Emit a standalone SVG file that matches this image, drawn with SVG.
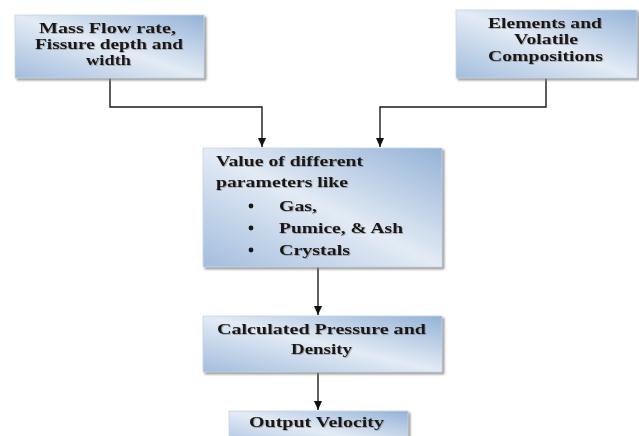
<svg xmlns="http://www.w3.org/2000/svg" width="639" height="436" viewBox="0 0 639 436">
<defs>
<linearGradient id="g" x1="0" y1="1" x2="1" y2="0">
<stop offset="0" stop-color="#a3bddd"/>
<stop offset="0.5" stop-color="#e3ebf5"/>
<stop offset="1" stop-color="#93b2d7"/>
</linearGradient>
<filter id="sh" x="-5%" y="-5%" width="115%" height="120%">
<feDropShadow dx="2" dy="2" stdDeviation="0.8" flood-color="#7f7f7f" flood-opacity="0.8"/>
</filter>
<filter id="ts" x="-5%" y="-20%" width="110%" height="150%">
<feDropShadow dx="0.8" dy="0.8" stdDeviation="0.4" flood-color="#6b6b6b" flood-opacity="0.6"/>
</filter>
<marker id="ah" markerWidth="9" markerHeight="8" refX="9" refY="4" orient="auto" markerUnits="userSpaceOnUse">
<path d="M0,0 L9,4 L0,8 Z" fill="#111"/>
</marker>
</defs>
<style>
.box{fill:url(#g);stroke:#c5d4e6;stroke-width:0.8;filter:url(#sh)}
.t{font-family:"Liberation Serif","Times New Roman",serif;font-weight:bold;font-size:15px;fill:#1a1712;filter:url(#ts)}
.c{text-anchor:middle}
.b{fill:#1a1712}
.ln{fill:none;stroke:#1a1a1a;stroke-width:1.4}
</style>
<rect width="639" height="436" fill="#fff"/>
<g id="connectors">
<path class="ln" d="M110,78 V107 H262 V147" marker-end="url(#ah)"/>
<path class="ln" d="M546,78 V107 H380 V147" marker-end="url(#ah)"/>
<path class="ln" d="M318,267 V315" marker-end="url(#ah)"/>
<path class="ln" d="M318,372 V410" marker-end="url(#ah)"/>
</g>
<g id="n1">
<rect class="box" x="15" y="15" width="189" height="63"/>
<text class="t c" x="107.5" y="33" textLength="137" lengthAdjust="spacingAndGlyphs">Mass Flow rate,</text>
<text class="t c" x="109" y="49" textLength="148" lengthAdjust="spacingAndGlyphs">Fissure depth and</text>
<text class="t c" x="108.5" y="65" textLength="45" lengthAdjust="spacingAndGlyphs">width</text>
</g>
<g id="n2">
<rect class="box" x="456" y="10" width="181" height="68"/>
<text class="t c" x="545" y="28" textLength="114" lengthAdjust="spacingAndGlyphs">Elements and</text>
<text class="t c" x="546" y="44" textLength="64" lengthAdjust="spacingAndGlyphs">Volatile</text>
<text class="t c" x="545.5" y="61" textLength="115" lengthAdjust="spacingAndGlyphs">Compositions</text>
</g>
<g id="n3">
<rect class="box" x="203" y="148" width="239" height="119"/>
<text class="t" x="216" y="166" textLength="147" lengthAdjust="spacingAndGlyphs">Value of different</text>
<text class="t" x="216" y="187" textLength="132" lengthAdjust="spacingAndGlyphs">parameters like</text>
<circle class="b" cx="251" cy="206" r="2.4"/>
<text class="t" x="279" y="211" textLength="38" lengthAdjust="spacingAndGlyphs">Gas,</text>
<circle class="b" cx="251" cy="228" r="2.4"/>
<text class="t" x="279" y="233" textLength="124" lengthAdjust="spacingAndGlyphs">Pumice, &amp; Ash</text>
<circle class="b" cx="251" cy="250" r="2.4"/>
<text class="t" x="279" y="255" textLength="71" lengthAdjust="spacingAndGlyphs">Crystals</text>
</g>
<g id="n4">
<rect class="box" x="203" y="316" width="239" height="56"/>
<text class="t c" x="321.5" y="334" textLength="209" lengthAdjust="spacingAndGlyphs">Calculated Pressure and</text>
<text class="t c" x="321.5" y="354" textLength="61" lengthAdjust="spacingAndGlyphs">Density</text>
</g>
<g id="n5">
<rect class="box" x="229" y="411" width="179" height="40"/>
<text class="t c" x="316.5" y="427" textLength="135" lengthAdjust="spacingAndGlyphs">Output Velocity</text>
</g>
</svg>
